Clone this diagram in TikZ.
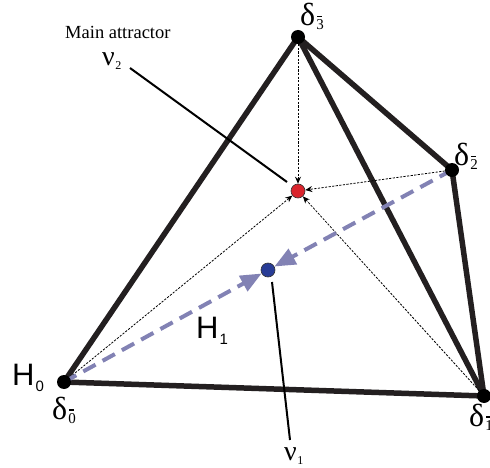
\documentclass[tikz,border=0pt]{standalone}
\usepackage{fontspec}
\setmainfont{Liberation Serif}
\newfontfamily\hfont{Liberation Sans}
\usetikzlibrary{arrows.meta,backgrounds}
\definecolor{edgec}{RGB}{35,31,32}
\definecolor{purp}{RGB}{130,130,180}
\definecolor{reddot}{RGB}{218,37,45}
\definecolor{bluedot}{RGB}{40,60,150}
\newcommand{\dlab}[1]{δ\kern1pt\raisebox{-4pt}{\fontsize{15}{15}\selectfont\rlap{\kern1pt\raisebox{12.5pt}{\rule{5pt}{1.3pt}}}#1}}
\newcommand{\hlab}[1]{{\hfont H\kern1pt\raisebox{-6pt}{\fontsize{15}{15}\selectfont #1}}}
\newcommand{\nlab}[1]{ν\kern0.5pt\raisebox{-4pt}{\fontsize{12}{12}\selectfont #1}}
\begin{document}
\begin{tikzpicture}[x=1pt,y=-1pt,
  vtx/.style={circle,fill=black,inner sep=0pt,minimum size=14pt},
  attr/.style={circle,draw=black!80,line width=0.6pt,inner sep=0pt,minimum size=14pt},
  edge/.style={draw=edgec,line width=5.5pt,line join=round,line cap=round},
  dotarr/.style={draw=black,line width=0.8pt,dash pattern=on 2.2pt off 1.4pt,-{Stealth[length=7pt,width=6pt]}},
  pdash/.style={draw=purp,line width=4pt,dash pattern=on 14pt off 8pt,-{Triangle[length=21pt,width=17pt]}},
  lline/.style={draw=black,line width=2pt},
  txt/.style={inner sep=0pt,anchor=base west}]
\useasboundingbox (0,0) rectangle (490,468);
\node[vtx] (d3) at (298,37) {};
\node[vtx] (d2) at (452,170) {};
\node[vtx] (d0) at (64,382) {};
\node[vtx] (d1) at (484,396) {};
\node[attr,fill=reddot] (red) at (298,191) {};
\node[attr,fill=bluedot] (blue) at (268,270) {};
\begin{scope}[on background layer]
\draw[edge] (d0.center) -- (d3.center) -- (d2.center) -- (d1.center) -- cycle;
\draw[edge] (d3.center) -- (d1.center);
\draw[dotarr] (d3.center) -- (red);
\draw[dotarr] (d2.center) -- (red);
\draw[dotarr] (d0.center) -- (red);
\draw[dotarr] (d1.center) -- (red);
\draw[pdash] (d2.center) -- (blue);
\draw[pdash] (d0.center) -- (blue);
\coordinate (n2a) at (130,68);
\coordinate (n2b) at (287,182);
\draw[lline] (n2a) -- (n2b);
\coordinate (n1a) at (272,282);
\coordinate (n1b) at (290,440);
\draw[lline] (n1a) -- (n1b);
\end{scope}
\node[txt,font=\fontsize{18.5}{20}\selectfont] (main) at (65,38.5) {Main attractor};
\node[txt,font=\fontsize{28}{30}\selectfont] (nu2) at (102,66) {\nlab{2}};
\node[txt,font=\fontsize{28}{30}\selectfont] (nu1) at (284,460) {\nlab{1}};
\node[txt,font=\fontsize{31}{32}\selectfont] (h0) at (12,385) {\hlab{0}};
\node[txt,font=\fontsize{31}{32}\selectfont] (h1) at (196,338) {\hlab{1}};
\node[txt,font=\fontsize{32}{34}\selectfont] (l3) at (300,26) {\dlab{3}};
\node[txt,font=\fontsize{32}{34}\selectfont] (l2) at (454,166) {\dlab{2}};
\node[txt,font=\fontsize{32}{34}\selectfont] (l0) at (52,419) {\dlab{0}};
\node[txt,font=\fontsize{32}{34}\selectfont] (l1) at (469,426) {\dlab{1}};
\end{tikzpicture}
\end{document}
